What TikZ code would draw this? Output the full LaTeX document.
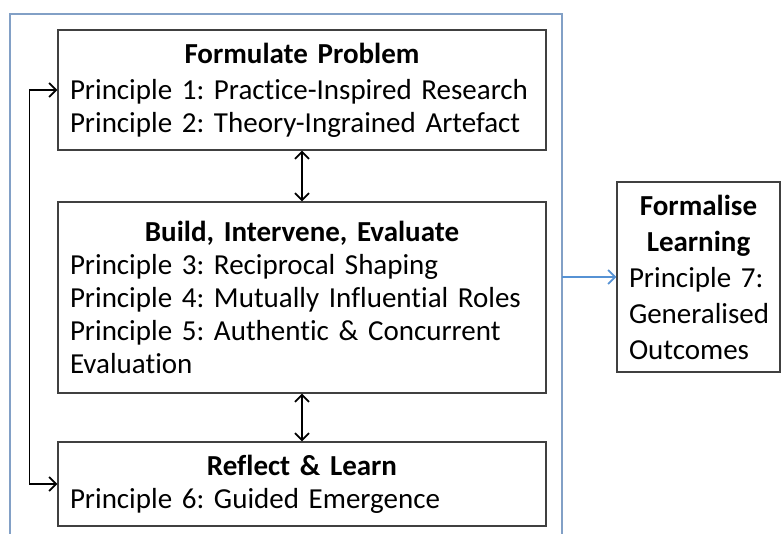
\documentclass[tikz,border=0pt]{standalone}
\usepackage{fontspec}
\setmainfont{Carlito}[Ligatures=NoCommon]
\usetikzlibrary{positioning, arrows.meta, calc}
\definecolor{frameblue}{RGB}{130,160,198}
\definecolor{arrowblue}{RGB}{86,146,212}
\tikzset{
  stage/.style={draw=black!75, line width=1.2pt, inner sep=0pt, text width=464pt,
    minimum width=488pt, align=left, font=\fontsize{29}{33}\selectfont\frenchspacing},
  outcome/.style={draw=black!75, line width=1.2pt, inner sep=0pt, text width=139pt,
    minimum width=163pt, align=left, font=\fontsize{29}{36}\selectfont\frenchspacing},
  both/.style={{Straight Barb[length=7pt,width=14pt]}-{Straight Barb[length=7pt,width=14pt]},
    line width=1.8pt},
  onto/.style={-{Straight Barb[length=7pt,width=14pt]}, line width=1.8pt},
  frame/.style={draw=frameblue, line width=1.2pt}
}
\newcommand{\stagetitle}[1]{\makebox[\linewidth][c]{\bfseries #1}}

\begin{document}
\begin{tikzpicture}[x=1pt,y=-1pt]
\useasboundingbox (0,0) rectangle (782,534);

% outer frame, open at the bottom
\draw[frame] (10,534) -- (10,14) -- (562,14) -- (562,534);
\coordinate (frameR) at (562,277);

\node [stage, minimum height=120pt] (formulate) at (302,90)
  {\stagetitle{Formulate Problem}\\[3pt]
   Principle 1: Practice-Inspired Research\\
   Principle 2: Theory-Ingrained Artefact};

\node [stage, minimum height=191pt] (build) at (302,297.5)
  {\stagetitle{Build, Intervene, Evaluate}\\
   Principle 3: Reciprocal Shaping\\
   Principle 4: Mutually Influential Roles\\
   Principle 5: Authentic \& Concurrent\\
   Evaluation};

\node [stage, minimum height=84pt] (reflect) at (302,484)
  {\stagetitle{Reflect \& Learn}\\
   Principle 6: Guided Emergence};

\node [outcome, minimum height=190pt] (formalise) at (698.5,277)
  {\stagetitle{Formalise}\\
   \stagetitle{Learning}\\
   Principle 7:\\
   Generalised\\
   Outcomes};

\draw[both] (formulate.south) -- (build.north);
\draw[both] (build.south) -- (reflect.north);
\draw[both] (reflect.west) -- ++(-28,0) |- (formulate.west);

\draw[onto, color=arrowblue] (frameR) -- (formalise.west);

\end{tikzpicture}
\end{document}
